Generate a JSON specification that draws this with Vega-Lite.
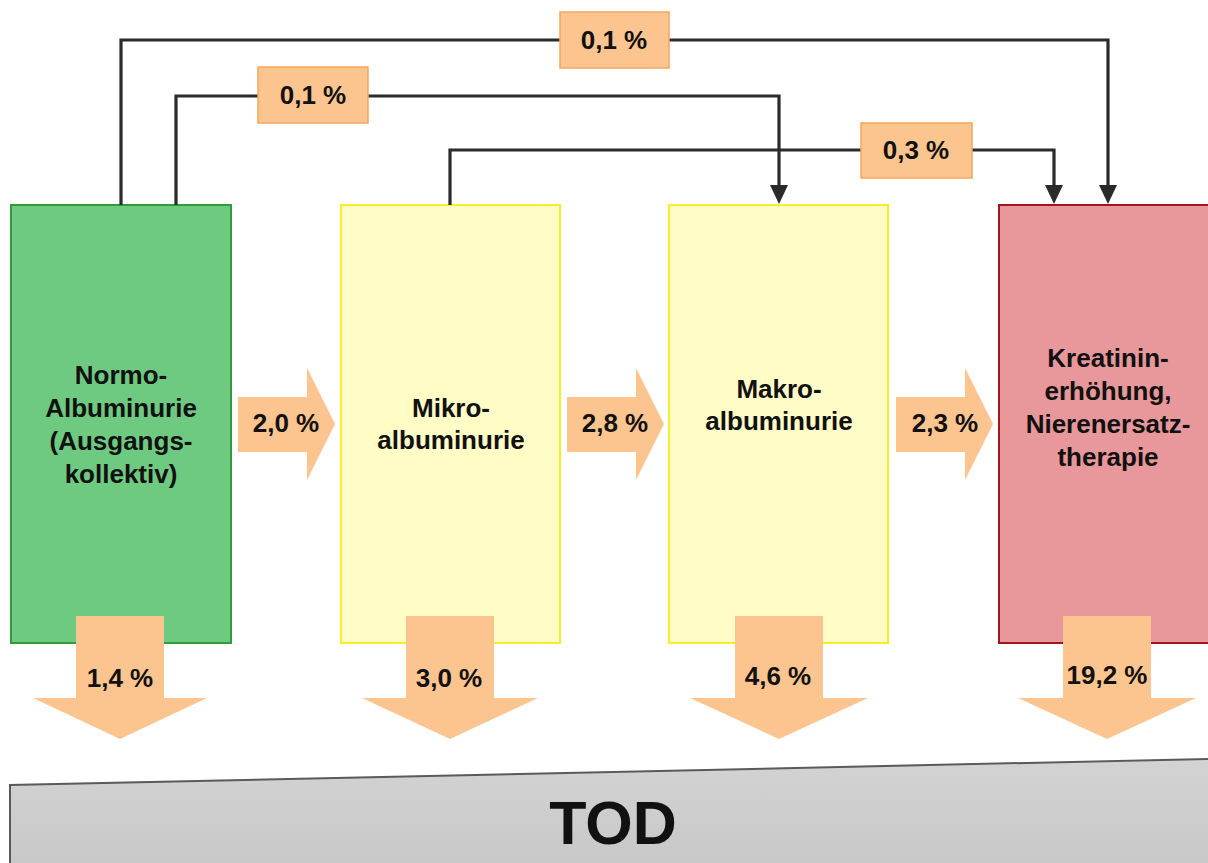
{
  "$schema": "https://vega.github.io/schema/vega-lite/v6.json",
  "width": 1208,
  "height": 863,
  "autosize": "none",
  "padding": 0,
  "background": "white",
  "config": {"view": {"stroke": null}},
  "datasets": {
    "tod": [{"x": 10, "y": 785, "y2": 863}, {"x": 1208, "y": 759, "y2": 863}],
    "todEdge": [{"x": 10, "y": 863, "o": 0}, {"x": 10, "y": 785, "o": 1}, {"x": 1208, "y": 759, "o": 2}],
    "todText": [{"x": 613, "y": 826, "text": "TOD"}],
    "boxes": [
      {"stage": "normo", "x": 11, "x2": 231, "y": 205, "y2": 643},
      {"stage": "mikro", "x": 341, "x2": 560, "y": 205, "y2": 643},
      {"stage": "makro", "x": 669, "x2": 888, "y": 205, "y2": 643},
      {"stage": "krea", "x": 999, "x2": 1214, "y": 205, "y2": 643}
    ],
    "connectors": [
      {"id": "A", "o": 0, "x": 121, "y": 205}, {"id": "A", "o": 1, "x": 121, "y": 40}, {"id": "A", "o": 2, "x": 1108, "y": 40}, {"id": "A", "o": 3, "x": 1108, "y": 188},
      {"id": "B", "o": 0, "x": 176, "y": 205}, {"id": "B", "o": 1, "x": 176, "y": 96}, {"id": "B", "o": 2, "x": 779, "y": 96}, {"id": "B", "o": 3, "x": 779, "y": 188},
      {"id": "C", "o": 0, "x": 450, "y": 205}, {"id": "C", "o": 1, "x": 450, "y": 150}, {"id": "C", "o": 2, "x": 1054, "y": 150}, {"id": "C", "o": 3, "x": 1054, "y": 188}
    ],
    "connHeads": [
      {"id": "A", "x": 1099, "y": 185, "y2": 185}, {"id": "A", "x": 1108, "y": 185, "y2": 204}, {"id": "A", "x": 1117, "y": 185, "y2": 185},
      {"id": "B", "x": 770, "y": 185, "y2": 185}, {"id": "B", "x": 779, "y": 185, "y2": 204}, {"id": "B", "x": 788, "y": 185, "y2": 185},
      {"id": "C", "x": 1045, "y": 185, "y2": 185}, {"id": "C", "x": 1054, "y": 185, "y2": 204}, {"id": "C", "x": 1063, "y": 185, "y2": 185}
    ],
    "labelBoxes": [
      {"x": 560, "x2": 669, "y": 12, "y2": 68},
      {"x": 258, "x2": 368, "y": 67, "y2": 123},
      {"x": 861, "x2": 972, "y": 123, "y2": 178}
    ],
    "shafts": [
      {"x": 238, "x2": 308, "y": 397, "y2": 452},
      {"x": 567, "x2": 637, "y": 397, "y2": 452},
      {"x": 896, "x2": 966, "y": 397, "y2": 452},
      {"x": 76, "x2": 164, "y": 616, "y2": 699},
      {"x": 406, "x2": 494, "y": 616, "y2": 699},
      {"x": 735, "x2": 823, "y": 616, "y2": 699},
      {"x": 1063, "x2": 1151, "y": 616, "y2": 699}
    ],
    "rightHeads": [
      {"id": "r1", "y": 368, "x": 307, "x2": 307}, {"id": "r1", "y": 424, "x": 307, "x2": 335}, {"id": "r1", "y": 480, "x": 307, "x2": 307},
      {"id": "r2", "y": 368, "x": 636, "x2": 636}, {"id": "r2", "y": 424, "x": 636, "x2": 664}, {"id": "r2", "y": 480, "x": 636, "x2": 636},
      {"id": "r3", "y": 368, "x": 965, "x2": 965}, {"id": "r3", "y": 424, "x": 965, "x2": 993}, {"id": "r3", "y": 480, "x": 965, "x2": 965}
    ],
    "downHeads": [
      {"id": "d1", "x": 33, "y": 698, "y2": 698}, {"id": "d1", "x": 120, "y": 698, "y2": 739}, {"id": "d1", "x": 207, "y": 698, "y2": 698},
      {"id": "d2", "x": 362, "y": 698, "y2": 698}, {"id": "d2", "x": 450, "y": 698, "y2": 739}, {"id": "d2", "x": 538, "y": 698, "y2": 698},
      {"id": "d3", "x": 690, "y": 698, "y2": 698}, {"id": "d3", "x": 779, "y": 698, "y2": 739}, {"id": "d3", "x": 868, "y": 698, "y2": 698},
      {"id": "d4", "x": 1018, "y": 698, "y2": 698}, {"id": "d4", "x": 1107, "y": 698, "y2": 739}, {"id": "d4", "x": 1196, "y": 698, "y2": 698}
    ],
    "boxText": [
      {"x": 121, "y": 376, "text": "Normo-"},
      {"x": 121, "y": 409, "text": "Albuminurie"},
      {"x": 121, "y": 442, "text": "(Ausgangs-"},
      {"x": 121, "y": 475, "text": "kollektiv)"},
      {"x": 451, "y": 409, "text": "Mikro-"},
      {"x": 451, "y": 441, "text": "albuminurie"},
      {"x": 779, "y": 390, "text": "Makro-"},
      {"x": 779, "y": 422, "text": "albuminurie"},
      {"x": 1108, "y": 359, "text": "Kreatinin-"},
      {"x": 1108, "y": 392, "text": "erhöhung,"},
      {"x": 1108, "y": 425, "text": "Nierenersatz-"},
      {"x": 1108, "y": 458, "text": "therapie"}
    ],
    "pctText": [
      {"x": 614, "y": 41, "text": "0,1 %"},
      {"x": 313, "y": 96, "text": "0,1 %"},
      {"x": 916, "y": 151, "text": "0,3 %"},
      {"x": 286, "y": 424, "text": "2,0 %"},
      {"x": 615, "y": 424, "text": "2,8 %"},
      {"x": 945, "y": 424, "text": "2,3 %"},
      {"x": 120, "y": 679, "text": "1,4 %"},
      {"x": 449, "y": 679, "text": "3,0 %"},
      {"x": 778, "y": 677, "text": "4,6 %"},
      {"x": 1107, "y": 676, "text": "19,2 %"}
    ]
  },
  "layer": [
    {
      "data": {"name": "tod"},
      "mark": {"type": "area", "orient": "vertical", "color": {"gradient": "linear", "x1": 0, "y1": 0, "x2": 0, "y2": 1, "stops": [{"offset": 0, "color": "#d3d3d3"}, {"offset": 1, "color": "#c8c8c8"}]}},
      "encoding": {
        "x": {"field": "x", "type": "quantitative", "scale": {"domain": [0, 1208], "nice": false, "zero": false}, "axis": null},
        "y": {"field": "y", "type": "quantitative", "stack": null, "scale": {"domain": [0, 863], "reverse": true, "nice": false, "zero": false}, "axis": null},
        "y2": {"field": "y2"}
      }
    },
    {
      "data": {"name": "todEdge"},
      "mark": {"type": "line", "color": "#5a5a5a", "strokeWidth": 2},
      "encoding": {
        "x": {"field": "x", "type": "quantitative", "axis": null},
        "y": {"field": "y", "type": "quantitative", "axis": null},
        "order": {"field": "o"}
      }
    },
    {
      "data": {"name": "todText"},
      "mark": {"type": "text", "font": "Liberation Sans", "fontWeight": "bold", "fontSize": 61, "align": "center", "baseline": "middle", "color": "#111111"},
      "encoding": {
        "x": {"field": "x", "type": "quantitative", "axis": null},
        "y": {"field": "y", "type": "quantitative", "axis": null},
        "text": {"field": "text"}
      }
    },
    {
      "data": {"name": "boxes"},
      "mark": {"type": "rect", "strokeWidth": 2},
      "encoding": {
        "x": {"field": "x", "type": "quantitative", "axis": null},
        "x2": {"field": "x2"},
        "y": {"field": "y", "type": "quantitative", "axis": null},
        "y2": {"field": "y2"},
        "fill": {"field": "stage", "type": "nominal", "legend": null, "scale": {"domain": ["normo", "mikro", "makro", "krea"], "range": ["#6fca81", "#fffcc5", "#fffcc5", "#e8979a"]}},
        "stroke": {"field": "stage", "type": "nominal", "legend": null, "scale": {"domain": ["normo", "mikro", "makro", "krea"], "range": ["#2f9b3b", "#f5ee2c", "#f5ee2c", "#a3141f"]}}
      }
    },
    {
      "data": {"name": "connectors"},
      "mark": {"type": "line", "color": "#2a2a2a", "strokeWidth": 3.2},
      "encoding": {
        "x": {"field": "x", "type": "quantitative", "axis": null},
        "y": {"field": "y", "type": "quantitative", "axis": null},
        "detail": {"field": "id"},
        "order": {"field": "o"}
      }
    },
    {
      "data": {"name": "connHeads"},
      "mark": {"type": "area", "orient": "vertical", "color": "#2a2a2a"},
      "encoding": {
        "x": {"field": "x", "type": "quantitative", "axis": null},
        "y": {"field": "y", "type": "quantitative", "stack": null, "axis": null},
        "y2": {"field": "y2"},
        "detail": {"field": "id", "type": "nominal"}
      }
    },
    {
      "data": {"name": "labelBoxes"},
      "mark": {"type": "rect", "fill": "#fcc58f", "stroke": "#f4a75e", "strokeWidth": 1.5},
      "encoding": {
        "x": {"field": "x", "type": "quantitative", "axis": null},
        "x2": {"field": "x2"},
        "y": {"field": "y", "type": "quantitative", "axis": null},
        "y2": {"field": "y2"}
      }
    },
    {
      "data": {"name": "shafts"},
      "mark": {"type": "rect", "fill": "#fcc58f"},
      "encoding": {
        "x": {"field": "x", "type": "quantitative", "axis": null},
        "x2": {"field": "x2"},
        "y": {"field": "y", "type": "quantitative", "axis": null},
        "y2": {"field": "y2"}
      }
    },
    {
      "data": {"name": "rightHeads"},
      "mark": {"type": "area", "orient": "horizontal", "color": "#fcc58f"},
      "encoding": {
        "y": {"field": "y", "type": "quantitative", "axis": null},
        "x": {"field": "x", "type": "quantitative", "stack": null, "axis": null},
        "x2": {"field": "x2"},
        "detail": {"field": "id", "type": "nominal"}
      }
    },
    {
      "data": {"name": "downHeads"},
      "mark": {"type": "area", "orient": "vertical", "color": "#fcc58f"},
      "encoding": {
        "x": {"field": "x", "type": "quantitative", "axis": null},
        "y": {"field": "y", "type": "quantitative", "stack": null, "axis": null},
        "y2": {"field": "y2"},
        "detail": {"field": "id", "type": "nominal"}
      }
    },
    {
      "data": {"name": "boxText"},
      "mark": {"type": "text", "font": "Liberation Sans", "fontWeight": "bold", "fontSize": 26, "align": "center", "baseline": "middle", "color": "#111111"},
      "encoding": {
        "x": {"field": "x", "type": "quantitative", "axis": null},
        "y": {"field": "y", "type": "quantitative", "axis": null},
        "text": {"field": "text"}
      }
    },
    {
      "data": {"name": "pctText"},
      "mark": {"type": "text", "font": "Liberation Sans", "fontWeight": "bold", "fontSize": 26, "align": "center", "baseline": "middle", "color": "#111111"},
      "encoding": {
        "x": {"field": "x", "type": "quantitative", "axis": null},
        "y": {"field": "y", "type": "quantitative", "axis": null},
        "text": {"field": "text"}
      }
    }
  ]
}
